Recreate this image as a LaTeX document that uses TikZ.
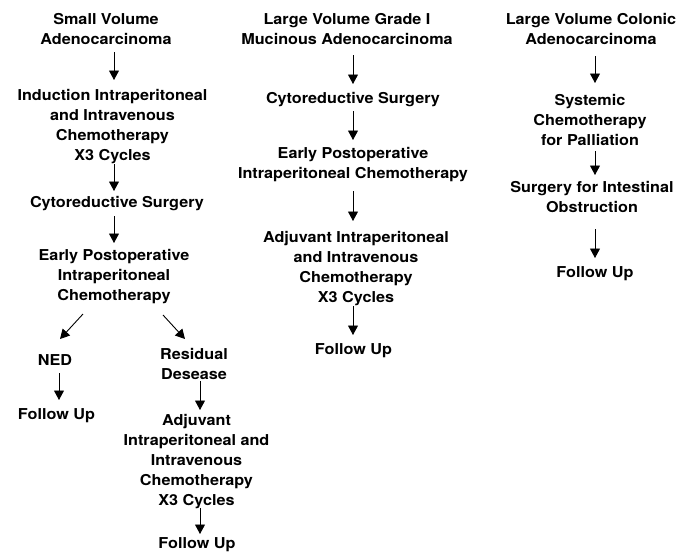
\documentclass[tikz,border=0pt]{standalone}
\usepackage{fontspec}
\setmainfont[FakeStretch=1.08]{TeX Gyre Heros}
\usetikzlibrary{arrows.meta}
\begin{document}
\begin{tikzpicture}[x=1pt,y=-1pt,
  lbl/.style={align=center,inner sep=0pt,font=\bfseries\fontsize{15}{20}\selectfont},
  arr/.style={-{Triangle[length=9.5pt,width=10pt]},line width=0.9pt}]
\useasboundingbox (0,0) rectangle (694,554);
% column 1
\node[lbl] (a1) at (106,29) {Small Volume\\Adenocarcinoma};
\node[lbl] (a2) at (112.5,126.5) {Induction Intraperitoneal\\and Intravenous\\Chemotherapy\\X3 Cycles};
\node[lbl] (a3) at (117,204) {Cytoreductive Surgery};
\node[lbl] (a4) at (114,276.5) {Early Postoperative\\Intraperitoneal\\Chemotherapy};
\node[lbl] (a5) at (55,360.5) {NED};
\node[lbl] (a6) at (56.5,415.5) {Follow Up};
\node[lbl] (a7) at (194,364) {Residual\\Desease};
\node[lbl] (a8) at (196.5,462) {Adjuvant\\Intraperitoneal and\\Intravenous\\Chemotherapy\\X3 Cycles};
\node[lbl] (a9) at (197,545) {Follow Up};
% column 2
\node[lbl] (b1) at (347,29) {Large Volume Grade I\\Mucinous Adenocarcinoma};
\node[lbl] (b2) at (353,100) {Cytoreductive Surgery};
\node[lbl] (b3) at (353,164.5) {Early Postoperative\\Intraperitoneal Chemotherapy};
\node[lbl] (b4) at (356,268.5) {Adjuvant Intraperitoneal\\and Intravenous\\Chemotherapy\\X3 Cycles};
\node[lbl] (b5) at (353.5,350.5) {Follow Up};
% column 3
\node[lbl] (c1) at (591,29) {Large Volume Colonic\\Adenocarcinoma};
\node[lbl] (c2) at (590,120) {Systemic\\Chemotherapy\\for Palliation};
\node[lbl] (c3) at (592,197) {Surgery for Intestinal\\Obstruction};
\node[lbl] (c4) at (595,273.5) {Follow Up};
% connector end points
\coordinate (p1) at (114,52);  \coordinate (q1) at (114,80);
\coordinate (p2) at (114,164); \coordinate (q2) at (114,191);
\coordinate (p3) at (114,216); \coordinate (q3) at (114,243);
\coordinate (p4) at (83,314);  \coordinate (q4) at (60,339);
\coordinate (p5) at (163,315); \coordinate (q5) at (185,339);
\coordinate (p6) at (59,373);  \coordinate (q6) at (59,400);
\coordinate (p7) at (200,381); \coordinate (q7) at (200,410);
\coordinate (p8) at (200,508); \coordinate (q8) at (200,534);
\coordinate (r1) at (353,55);  \coordinate (s1) at (353,84);
\coordinate (r2) at (353,111); \coordinate (s2) at (353,140);
\coordinate (r3) at (353,191); \coordinate (s3) at (353,221);
\coordinate (r4) at (353,306); \coordinate (s4) at (353,335);
\coordinate (u1) at (595,56);  \coordinate (v1) at (595,83);
\coordinate (u2) at (595,151); \coordinate (v2) at (595,175);
\coordinate (u3) at (595,229); \coordinate (v3) at (595,258);
\foreach \a/\b in {p1/q1,p2/q2,p3/q3,p4/q4,p5/q5,p6/q6,p7/q7,p8/q8,r1/s1,r2/s2,r3/s3,r4/s4,u1/v1,u2/v2,u3/v3}
  \draw[arr] (\a) -- (\b);
\end{tikzpicture}
\end{document}
